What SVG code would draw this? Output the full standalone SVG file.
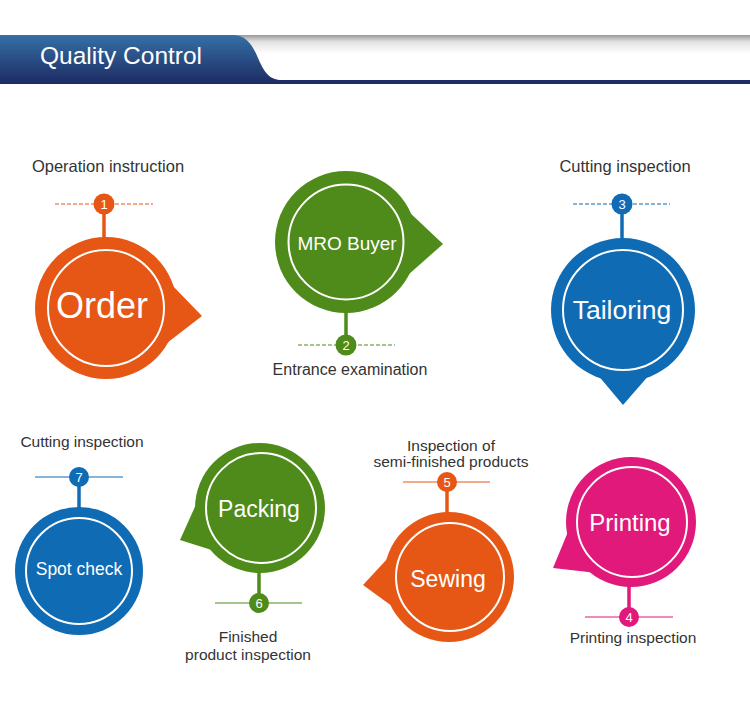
<svg xmlns="http://www.w3.org/2000/svg" width="750" height="723" viewBox="0 0 750 723">
<defs>
<linearGradient id="hdrBlue" x1="0" y1="0" x2="0" y2="1">
<stop offset="0" stop-color="#3570a6"/>
<stop offset="1" stop-color="#1d2a63"/>
</linearGradient>
<linearGradient id="hdrShade" x1="0" y1="0" x2="0" y2="1">
<stop offset="0" stop-color="#9a9a9a"/>
<stop offset="0.15" stop-color="#e2e2e2"/>
<stop offset="0.4" stop-color="#ffffff"/>
<stop offset="1" stop-color="#ffffff"/>
</linearGradient>
</defs>
<style>
.lbl{font-family:"Liberation Sans",Arial,sans-serif;fill:#333;text-anchor:middle}
.big{font-family:"Liberation Sans",Arial,sans-serif;fill:#fff;text-anchor:middle}
.num{font-family:"Liberation Sans",Arial,sans-serif;fill:#fff;text-anchor:middle;font-size:13px}
.ring{fill:none;stroke:#fff;stroke-width:2}
.orange{fill:#e65716}
.green{fill:#4e8b1a}
.blue{fill:#0f6bb3}
.pink{fill:#e0197a}
.so{stroke:#e65716}
.sg{stroke:#4e8b1a}
.sb{stroke:#0f6bb3}
.sp{stroke:#e0197a}
.dash{stroke-width:1;stroke-dasharray:4 2;fill:none}
.solid{stroke-width:1.2;fill:none}
.stem{stroke-width:3.5;fill:none}
</style>
<rect width="750" height="723" fill="#fff"/>
<g id="header">
<rect x="0" y="35" width="750" height="46" fill="url(#hdrShade)"/>
<rect x="0" y="80" width="750" height="4" fill="#1f2c66"/>
<path d="M0,35 L232,35 C246,35 252,44 258,58 C265,74 270,80 282,80 L282,84 L0,84 Z" fill="url(#hdrBlue)"/>
<text x="40" y="64" font-family="'Liberation Sans',Arial,sans-serif" font-size="24.5" fill="#fff">Quality Control</text>
</g>
<g id="connectors">
<line class="dash so" x1="55" y1="204" x2="153" y2="204"/>
<line class="stem so" x1="104" y1="204" x2="104" y2="242"/>
<line class="dash sg" x1="298" y1="345" x2="395" y2="345"/>
<line class="stem sg" x1="346" y1="308" x2="346" y2="345"/>
<line class="dash sb" x1="573" y1="204" x2="670" y2="204"/>
<line class="stem sb" x1="622" y1="204" x2="622" y2="242"/>
<line class="solid sb" x1="35" y1="477" x2="123" y2="477"/>
<line class="stem sb" x1="79" y1="477" x2="79" y2="510"/>
<line class="solid sg" x1="215" y1="603" x2="302" y2="603"/>
<line class="stem sg" x1="259" y1="568" x2="259" y2="603"/>
<line class="solid so" x1="403" y1="482" x2="490" y2="482"/>
<line class="stem so" x1="447" y1="482" x2="447" y2="515"/>
<line class="solid sp" x1="585" y1="617" x2="673" y2="617"/>
<line class="stem sp" x1="629" y1="582" x2="629" y2="617"/>
</g>
<g id="node-order">
<circle class="orange" cx="106" cy="308" r="71"/>
<polygon class="orange" points="170,283 202,316 167,343"/>
<circle class="ring" cx="106" cy="308" r="58"/>
<text class="big" x="102" y="318" font-size="36">Order</text>
<circle class="orange" cx="104" cy="204" r="10.5"/>
<text class="num" x="104" y="209">1</text>
<text class="lbl" x="108" y="172" font-size="16.5">Operation instruction</text>
</g>
<g id="node-mro">
<circle class="green" cx="346" cy="242" r="71"/>
<polygon class="green" points="408,211 443,244 408,275"/>
<circle class="ring" cx="346" cy="242" r="57.5"/>
<text class="big" x="347" y="250" font-size="19">MRO Buyer</text>
<circle class="green" cx="346" cy="345" r="10.5"/>
<text class="num" x="346" y="350">2</text>
<text class="lbl" x="350" y="375" font-size="16">Entrance examination</text>
</g>
<g id="node-tailoring">
<circle class="blue" cx="623" cy="310" r="72"/>
<polygon class="blue" points="597,374 623,405 650,374"/>
<circle class="ring" cx="623" cy="310" r="60"/>
<text class="big" x="622" y="319" font-size="26.5">Tailoring</text>
<circle class="blue" cx="622" cy="204" r="10.5"/>
<text class="num" x="622" y="209">3</text>
<text class="lbl" x="625" y="172" font-size="16.5">Cutting inspection</text>
</g>
<g id="node-spotcheck">
<circle class="blue" cx="79" cy="571" r="64"/>
<circle class="ring" cx="79" cy="571" r="53"/>
<text class="big" x="79" y="575" font-size="17.5">Spot check</text>
<circle class="blue" cx="79" cy="477" r="10"/>
<text class="num" x="79" y="482">7</text>
<text class="lbl" x="82" y="447" font-size="15.5">Cutting inspection</text>
</g>
<g id="node-packing">
<circle class="green" cx="260" cy="508" r="65"/>
<polygon class="green" points="198,500 180,540 218,552"/>
<circle class="ring" cx="261" cy="508" r="55"/>
<text class="big" x="259" y="517" font-size="23">Packing</text>
<circle class="green" cx="259" cy="603" r="10"/>
<text class="num" x="259" y="608">6</text>
<text class="lbl" x="248" y="642" font-size="15.5">Finished</text>
<text class="lbl" x="248" y="660" font-size="15.5">product inspection</text>
</g>
<g id="node-sewing">
<circle class="orange" cx="449" cy="577" r="65"/>
<polygon class="orange" points="388,558 363,585 396,609"/>
<circle class="ring" cx="450" cy="577" r="54"/>
<text class="big" x="448" y="587" font-size="23">Sewing</text>
<circle class="orange" cx="447" cy="482" r="10"/>
<text class="num" x="447" y="487">5</text>
<text class="lbl" x="451" y="451" font-size="15.5">Inspection of</text>
<text class="lbl" x="451" y="467" font-size="15.5">semi-finished products</text>
</g>
<g id="node-printing">
<circle class="pink" cx="631" cy="522" r="65"/>
<polygon class="pink" points="570,527 553,568 597,573"/>
<circle class="ring" cx="632" cy="522" r="55"/>
<text class="big" x="630" y="531" font-size="24">Printing</text>
<circle class="pink" cx="629" cy="617" r="10"/>
<text class="num" x="629" y="622">4</text>
<text class="lbl" x="633" y="643" font-size="15.5">Printing inspection</text>
</g>
</svg>
